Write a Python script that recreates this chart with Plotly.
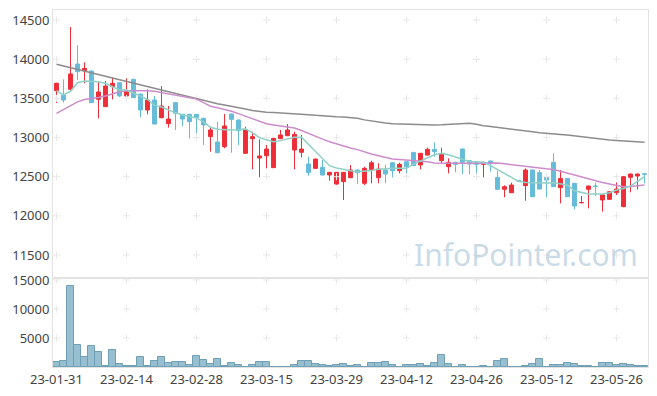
import plotly.graph_objects as go

dates = [
    "23-01-31",
    "23-02-01", "23-02-02", "23-02-03", "23-02-06", "23-02-07", "23-02-08", "23-02-09", "23-02-10", "23-02-13", "23-02-14",
    "23-02-15", "23-02-16", "23-02-17", "23-02-20", "23-02-21", "23-02-22", "23-02-23", "23-02-24", "23-02-27", "23-02-28",
    "23-03-02", "23-03-03", "23-03-06", "23-03-07", "23-03-08", "23-03-09", "23-03-10", "23-03-13", "23-03-14", "23-03-15",
    "23-03-16", "23-03-17", "23-03-20", "23-03-21", "23-03-22", "23-03-23", "23-03-24", "23-03-27", "23-03-28", "23-03-29",
    "23-03-30", "23-03-31", "23-04-03", "23-04-04", "23-04-05", "23-04-06", "23-04-07", "23-04-10", "23-04-11", "23-04-12",
    "23-04-13", "23-04-14", "23-04-17", "23-04-18", "23-04-19", "23-04-20", "23-04-21", "23-04-24", "23-04-25", "23-04-26",
    "23-04-27", "23-04-28", "23-05-02", "23-05-03", "23-05-04", "23-05-08", "23-05-09", "23-05-10", "23-05-11", "23-05-12",
    "23-05-15", "23-05-16", "23-05-17", "23-05-18", "23-05-19", "23-05-22", "23-05-23", "23-05-24", "23-05-25", "23-05-26",
    "23-05-30", "23-05-31", "23-06-01", "23-06-02",
]

open_ = [13598, 13543, 13615, 13938, 13853, 13849, 13487, 13394, 13649, 13700,
         13530, 13743, 13555, 13351, 13479, 13253, 13177, 13445, 13296, 13296,
         13296, 13245, 13011, 12943, 12883, 13300, 13223, 12798, 12985, 12738,
         12768, 12615, 12985, 13023, 12840, 12811, 12662, 12606, 12619, 12521,
         12406, 12436, 12487, 12585, 12415, 12593, 12487, 12585, 12678, 12576,
         12691, 12810, 12649, 12776, 12849, 12704, 12627, 12683, 12853, 12704,
         12683, 12657, 12700, 12491, 12338, 12295, 12452, 12385, 12585, 12551,
         12491, 12683, 12359, 12478, 12415, 12165, 12338, 12380, 12202, 12210,
         12295, 12117, 12491, 12508, 12536]
high_ = [13700, 13743, 14410, 14180, 13960, 13855, 13713, 13721, 13768, 13705,
         13755, 13750, 13560, 13615, 13530, 13657, 13402, 13450, 13300, 13300,
         13300, 13250, 13138, 13202, 13300, 13305, 13230, 13138, 13074, 12977,
         12904, 12995, 13096, 13172, 13074, 13032, 12755, 12730, 12713, 12560,
         12560, 12560, 12649, 12590, 12627, 12704, 12670, 12649, 12680, 12678,
         12695, 12815, 12800, 12870, 12938, 12870, 12734, 12690, 12860, 12710,
         12690, 12690, 12705, 12576, 12389, 12423, 12455, 12606, 12590, 12585,
         12495, 12798, 12585, 12482, 12420, 12253, 12385, 12423, 12270, 12312,
         12427, 12505, 12540, 12540, 12540]
low_ = [13440, 13445, 13600, 13735, 13692, 13440, 13245, 13394, 13487, 13520,
        13479, 13505, 13258, 13296, 13170, 13245, 13126, 13096, 13147, 12990,
        13053, 12904, 12819, 12798, 12862, 12806, 12904, 12795, 12594, 12492,
        12606, 12610, 12980, 13020, 12594, 12747, 12513, 12600, 12515, 12449,
        12395, 12202, 12480, 12406, 12393, 12415, 12415, 12415, 12491, 12542,
        12457, 12635, 12593, 12770, 12755, 12670, 12542, 12555, 12534, 12534,
        12521, 12491, 12563, 12335, 12236, 12290, 12445, 12193, 12240, 12340,
        12236, 12370, 12159, 12240, 12083, 12163, 12095, 12253, 12053, 12205,
        12266, 12110, 12300, 12338, 12415]
close_ = [13692, 13479, 13811, 13840, 13883, 13445, 13581, 13657, 13692, 13530,
          13585, 13509, 13351, 13479, 13172, 13402, 13236, 13309, 13236, 13202,
          13258, 13160, 13096, 12806, 13147, 13232, 13087, 13096, 13011, 12764,
          12853, 12989, 13032, 13096, 13040, 12853, 12551, 12725, 12521, 12555,
          12555, 12555, 12585, 12551, 12606, 12678, 12598, 12534, 12576, 12657,
          12627, 12640, 12798, 12849, 12819, 12785, 12683, 12657, 12683, 12661,
          12657, 12683, 12670, 12338, 12372, 12393, 12446, 12585, 12244, 12342,
          12457, 12372, 12478, 12244, 12125, 12170, 12380, 12376, 12266, 12308,
          12342, 12500, 12534, 12534, 12532]

ma5 = [13598, 13545, 13590, 13700, 13720, 13712, 13713, 13690, 13650, 13606,
       13606, 13570, 13530, 13485, 13410, 13390, 13350, 13315, 13287, 13266,
       13250, 13200, 13130, 13105, 13096, 13096, 13100, 13110, 13060, 13000,
       12970, 12947, 12960, 12980, 13002, 13002, 12910, 12820, 12720, 12640,
       12610, 12588, 12575, 12563, 12570, 12580, 12595, 12605, 12606, 12606,
       12606, 12660, 12700, 12745, 12780, 12798, 12780, 12750, 12725, 12695,
       12690, 12683, 12640, 12590, 12540, 12480, 12440, 12425, 12420, 12415,
       12418, 12423, 12410, 12393, 12320, 12300, 12280, 12278, 12278, 12295,
       12329, 12350, 12380, 12440, 12500]
ma20 = [13309, 13360, 13410, 13455, 13485, 13495, 13510, 13530, 13560, 13585,
        13598, 13600, 13600, 13598, 13590, 13575, 13560, 13545, 13528, 13510,
        13490, 13445, 13400, 13380, 13360, 13335, 13305, 13270, 13235, 13200,
        13175, 13160, 13148, 13138, 13120, 13090, 13050, 13015, 12980, 12945,
        12915, 12895, 12865, 12845, 12815, 12790, 12768, 12745, 12725, 12718,
        12712, 12706, 12700, 12690, 12675, 12670, 12670, 12670, 12672, 12675,
        12678, 12680, 12680, 12675, 12665, 12655, 12650, 12640, 12628, 12612,
        12600, 12590, 12570, 12545, 12515, 12490, 12466, 12445, 12425, 12406,
        12390, 12372, 12375, 12385, 12393]
ma60 = [13934, 13912, 13890, 13868, 13846, 13824, 13802, 13780, 13758, 13736,
        13714, 13692, 13670, 13648, 13626, 13604, 13582, 13560, 13538, 13510,
        13487, 13465, 13445, 13430, 13415, 13400, 13385, 13365, 13345, 13330,
        13322, 13318, 13314, 13311, 13309, 13300, 13292, 13284, 13276, 13270,
        13266, 13262, 13258, 13245, 13225, 13210, 13195, 13185, 13175, 13172,
        13170, 13165, 13160, 13160, 13160, 13162, 13165, 13170, 13175, 13181,
        13170, 13150, 13140, 13130, 13115, 13105, 13096, 13085, 13073, 13060,
        13050, 13045, 13038, 13032, 13020, 13008, 12995, 12985, 12975, 12968,
        12962, 12955, 12950, 12944, 12939]

volume = [860, 1090, 14030, 3800, 1725, 3620, 2590, 230, 2990, 575,
          230, 230, 1725, 230, 1090, 1725, 750, 860, 860, 400,
          1900, 1265, 575, 1380, 230, 690, 400, 50, 345, 860,
          860, 0, 0, 0, 345, 1090, 1090, 575, 345, 250,
          290, 520, 170, 345, 0, 690, 690, 860, 345, 0,
          345, 345, 520, 115, 690, 2070, 520, 0, 345, 0,
          0, 170, 0, 1035, 1380, 0, 0, 170, 520, 1380,
          0, 345, 345, 690, 520, 170, 170, 0, 690, 690,
          345, 520, 345, 170, 170]

price_ticks = [11500, 12000, 12500, 13000, 13500, 14000, 14500]
vol_ticks = [5000, 10000, 15000]
x_tick_labels = dates[::10]

RED = "#ee2e38"
BLUE = "#66bcd9"
GRID = "#e8e8e8"
FONT = "Noto Sans"

fig = go.Figure()

# grid crosses at tick intersections
gx, gy, vx, vy = [], [], [], []
for d in x_tick_labels:
    for t in price_ticks:
        gx.append(d); gy.append(t)
    for t in vol_ticks:
        vx.append(d); vy.append(t)
fig.add_trace(go.Scatter(x=gx, y=gy, mode="markers", hoverinfo="skip",
                         marker=dict(symbol="cross-thin", size=5, line=dict(color=GRID, width=1)),
                         xaxis="x", yaxis="y"))
fig.add_trace(go.Scatter(x=vx, y=vy, mode="markers", hoverinfo="skip",
                         marker=dict(symbol="cross-thin", size=5, line=dict(color=GRID, width=1)),
                         xaxis="x2", yaxis="y2"))

fig.add_trace(go.Candlestick(
    x=dates, open=open_, high=high_, low=low_, close=close_,
    increasing=dict(line=dict(color=RED, width=1), fillcolor=RED),
    decreasing=dict(line=dict(color=BLUE, width=1), fillcolor=BLUE),
    whiskerwidth=0, xaxis="x", yaxis="y"))

fig.add_trace(go.Scatter(x=dates, y=ma60, mode="lines", line=dict(color="#8c8c8c", width=1.5), xaxis="x", yaxis="y"))
fig.add_trace(go.Scatter(x=dates, y=ma20, mode="lines", line=dict(color="#cd8ccb", width=1.5), xaxis="x", yaxis="y"))
fig.add_trace(go.Scatter(x=dates, y=ma5, mode="lines", line=dict(color="#8fd1c6", width=1.5), xaxis="x", yaxis="y"))

fig.add_trace(go.Bar(x=dates, y=volume, marker=dict(color="#98bfd0", line=dict(color="#6f9fb5", width=1)),
                     xaxis="x2", yaxis="y2"))

split = 0.2493
axis_common = dict(showgrid=False, zeroline=False, showline=True, mirror=True,
                   linecolor="#e3e3e3", linewidth=1, ticks="", automargin=False)
fig.update_layout(
    width=657, height=396,
    margin=dict(l=53, r=9, t=10, b=29, autoexpand=False),
    paper_bgcolor="white", plot_bgcolor="white",
    showlegend=False, bargap=0, boxgap=0.2,
    font=dict(family=FONT, size=13, color="#444"),
    xaxis=dict(type="category", categoryorder="array", categoryarray=dates,
               domain=[0, 1], anchor="y", range=[-0.5, 84.5],
               showticklabels=False, rangeslider=dict(visible=False), **axis_common),
    yaxis=dict(domain=[split, 1], range=[11206, 14628], tickvals=price_ticks,
               ticktext=[str(t) for t in price_ticks], anchor="x", **axis_common),
    xaxis2=dict(type="category", categoryorder="array", categoryarray=dates,
                domain=[0, 1], anchor="y2", range=[-0.5, 84.5], matches="x",
                tickvals=x_tick_labels, ticktext=x_tick_labels, **axis_common),
    yaxis2=dict(domain=[0, split], range=[0, 15344], tickvals=vol_ticks,
                ticktext=[str(t) for t in vol_ticks], anchor="x2", **axis_common),
    annotations=[dict(text="InfoPointer.com", xref="paper", yref="paper",
                      x=0.987, xanchor="right", y=0.314, yanchor="middle", showarrow=False,
                      font=dict(family=FONT, size=30, color="rgba(165,195,215,0.6)"))],
)

fig.write_html("out.html", config={"displayModeBar": False},
               post_script="document.body.style.margin='0';")
